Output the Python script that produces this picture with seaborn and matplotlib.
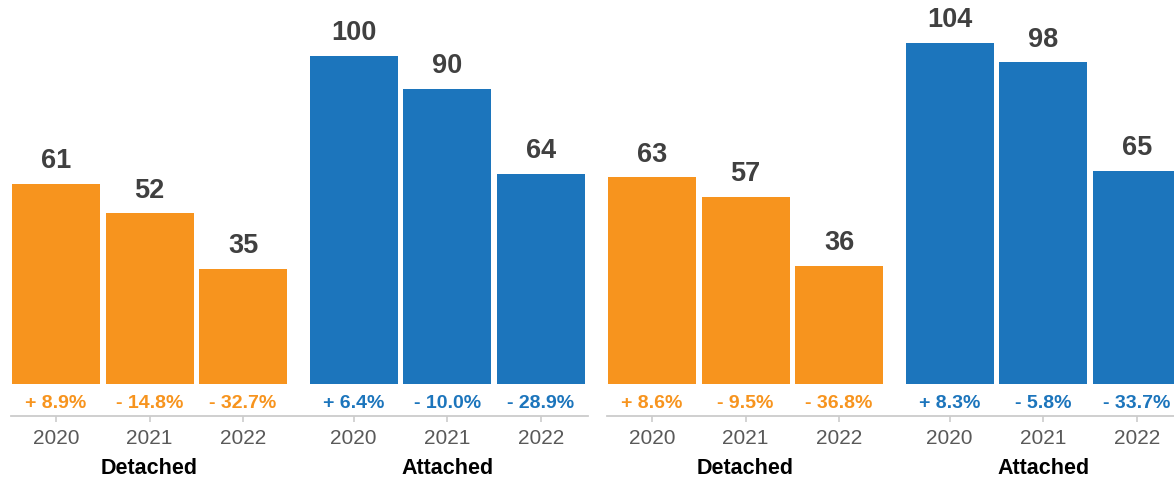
import matplotlib
matplotlib.use("Agg")
import matplotlib.pyplot as plt
import matplotlib.transforms as mtransforms
import numpy as np
import pandas as pd
import seaborn as sns

# Values (index, thousands) by dwelling type and year
years = ["2020", "2021", "2022"]
types = ["Detached", "Attached"]

left_detached = [61, 52, 35]
left_attached = [100, 90, 64]
right_detached = [63, 57, 36]
right_attached = [104, 98, 65]

# Year-over-year change shown below each bar (%)
left_detached_chg = [8.9, -14.8, -32.7]
left_attached_chg = [6.4, -10.0, -28.9]
right_detached_chg = [8.6, -9.5, -36.8]
right_attached_chg = [8.3, -5.8, -33.7]

ORANGE = "#F7941E"
BLUE = "#1C75BC"
palette = {"Detached": ORANGE, "Attached": BLUE}

sns.set_theme(style="white")
plt.rcParams["font.family"] = ["Liberation Sans", "DejaVu Sans"]

GROUP_GAP = 3.18
positions = [0, 1, 2, GROUP_GAP, GROUP_GAP + 1, GROUP_GAP + 2]


def fmt_change(v):
    sign = "+" if v >= 0 else "-"
    return f"{sign} {abs(v):.1f}%"


def draw_panel(ax, detached, attached, det_chg, att_chg):
    df = pd.DataFrame({
        "pos": positions,
        "value": detached + attached,
        "type": ["Detached"] * 3 + ["Attached"] * 3,
        "year": years * 2,
        "change": det_chg + att_chg,
    })
    sns.barplot(data=df, x="pos", y="value", hue="type", palette=palette,
                native_scale=True, dodge=False, width=0.94, errorbar=None,
                saturation=1, legend=False, ax=ax, linewidth=0)

    for container in ax.containers:
        ax.bar_label(container, fmt="%d", padding=7, fontsize=19.5,
                     fontweight="bold", color="#404040")

    for _, row in df.iterrows():
        ax.text(row["pos"], -5.8, fmt_change(row["change"]), ha="center",
                va="center", fontsize=14, fontweight="bold",
                color=palette[row["type"]])

    trans = mtransforms.blended_transform_factory(ax.transData, ax.transAxes)
    for i, t in enumerate(types):
        ax.text(positions[3 * i + 1], -0.125, t, transform=trans,
                ha="center", va="center", fontsize=15.5, fontweight="bold",
                color="black")

    ax.set_xlim(-0.48, 5.685)
    ax.set_ylim(-9.75, 117)
    ax.set_xticks(positions)
    ax.set_xticklabels(years * 2, fontsize=15, color="#595959")
    ax.tick_params(axis="x", length=4.5, width=1.2, color="#cccccc",
                   pad=4.5, bottom=True)
    ax.set_yticks([])
    ax.set_xlabel("")
    ax.set_ylabel("")
    for s in ["top", "left", "right"]:
        ax.spines[s].set_visible(False)
    ax.spines["bottom"].set_color("#cccccc")
    ax.spines["bottom"].set_linewidth(1.3)


W, H = 1174, 480
fig = plt.figure(figsize=(W / 100, H / 100), dpi=100)
ax_w = 577 / W
ax_b = (H - 416) / H
ax_h = 416 / H
ax1 = fig.add_axes([11 / W, ax_b, ax_w, ax_h])
ax2 = fig.add_axes([607 / W, ax_b, ax_w, ax_h])
for ax in (ax1, ax2):
    ax.patch.set_alpha(0)

draw_panel(ax1, left_detached, left_attached, left_detached_chg, left_attached_chg)
draw_panel(ax2, right_detached, right_attached, right_detached_chg, right_attached_chg)

fig.savefig("out.png", dpi=100, facecolor="white")
